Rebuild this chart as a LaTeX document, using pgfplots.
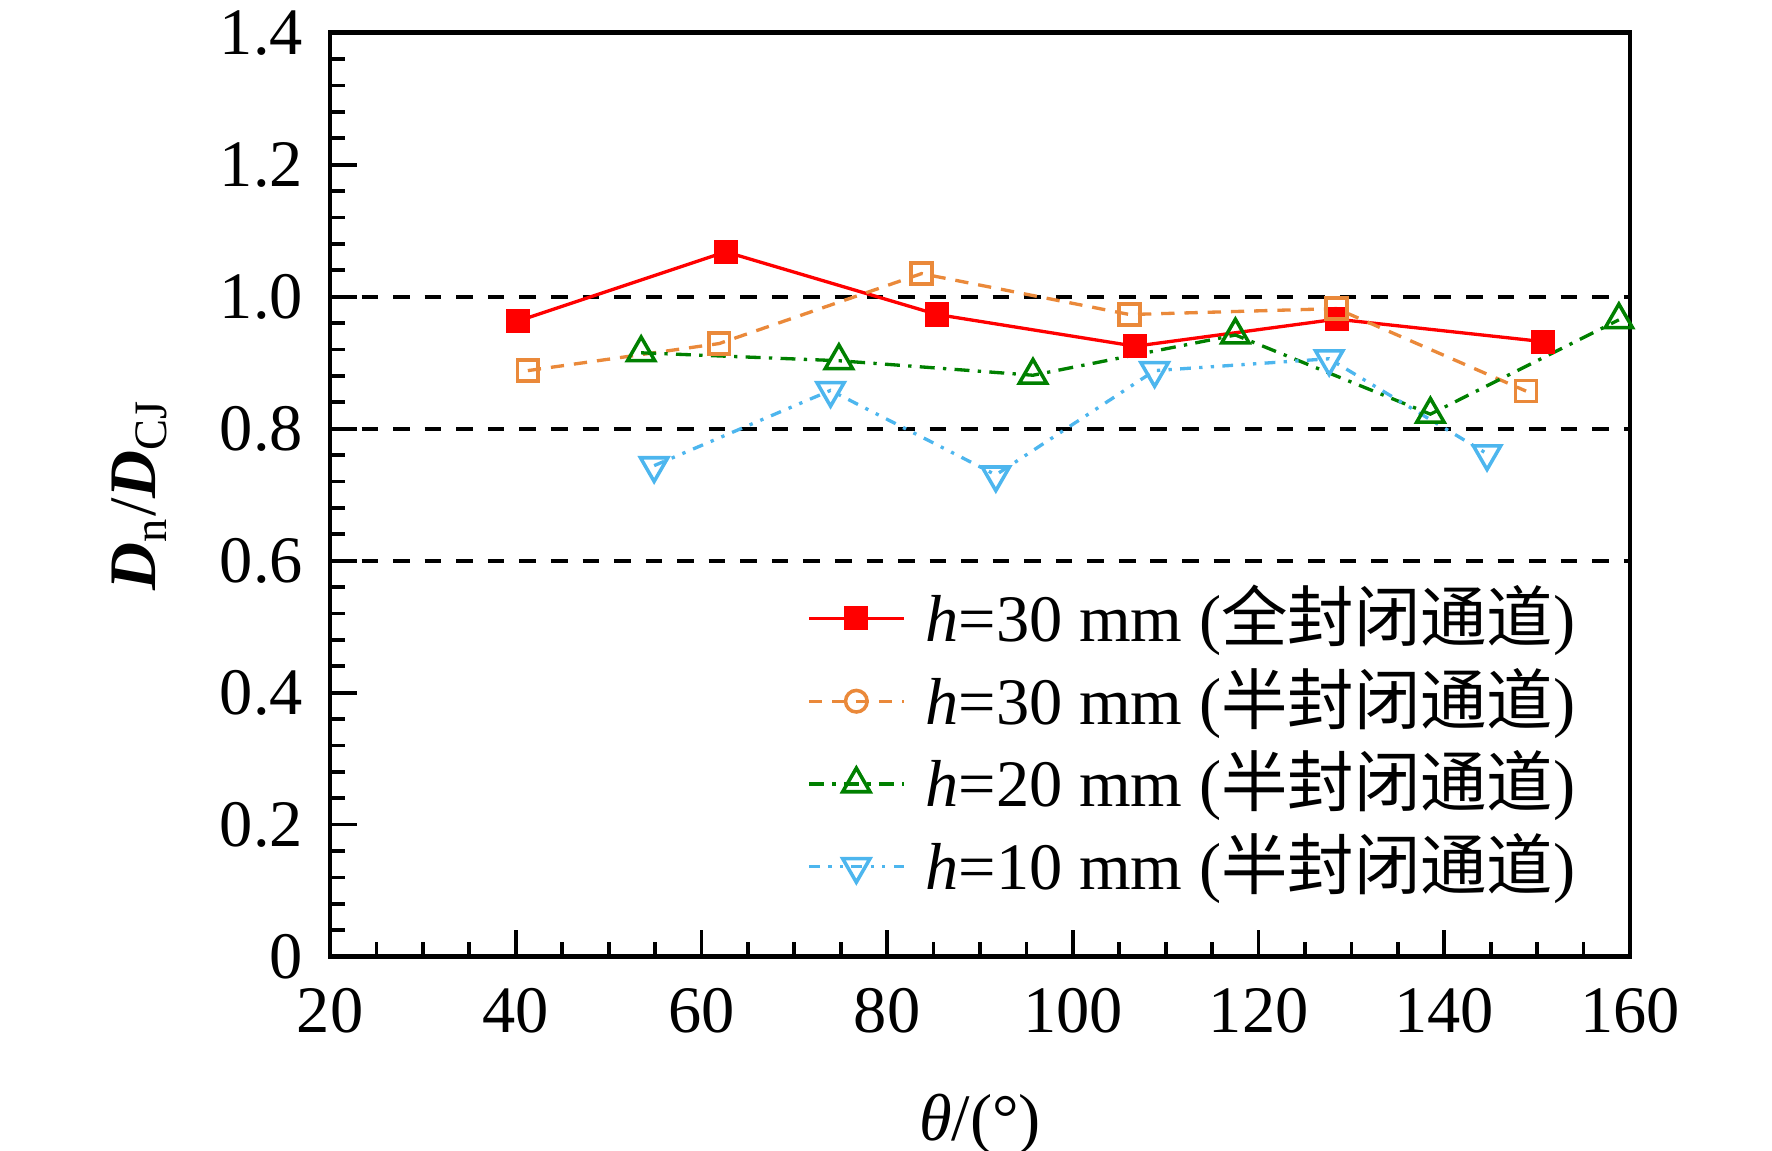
\documentclass[border=0pt]{standalone}
\usepackage{fontspec}
\setmainfont{Liberation Serif}
\newfontfamily\cjk{Noto Sans CJK SC}
\usepackage{pgfplots}
\pgfplotsset{compat=1.18}
\definecolor{cred}{RGB}{255,0,0}
\definecolor{corange}{RGB}{234,137,58}
\definecolor{cgreen}{RGB}{0,128,0}
\definecolor{cblue}{RGB}{77,182,238}
\begin{document}
\fontsize{16}{19}\selectfont
\begin{tikzpicture}
\begin{axis}[
  name=ax,
  scale only axis, width=313.1pt, height=222.5pt,
  xmin=20, xmax=160, ymin=0, ymax=1.4,
  xtick={20,40,...,160}, minor x tick num=3,
  ytick={0,0.2,0.4,0.6,0.8,1.0,1.2,1.4},
  yticklabels={0,0.2,0.4,0.6,0.8,1.0,1.2,1.4},
  minor y tick num=4,
  xtick pos=bottom, ytick pos=left,
  tick align=inside,
  major tick length=6.5pt, minor tick length=3.5pt,
  every tick/.style={line width=0.9pt, black},
  axis line style={line width=1.1pt},
  /pgf/number format/assume math mode=true,
  ticklabel style={font=\fontsize{16}{19}\selectfont},
  xticklabel style={yshift=-2pt},
  yticklabel style={xshift=-1pt},
  xlabel={\textit{θ}/(°)},
  ylabel={\textbf{\textit{D}}\textsubscript{n}/\textbf{\textit{D}}\textsubscript{CJ}},
  xlabel style={yshift=-4pt},
  ylabel style={yshift=2pt},
  legend style={draw=none, fill=none, at={(0.357,0.421)}, anchor=north west,
    font=\fontsize{16}{19}\selectfont, row sep=0pt,
    /tikz/every even column/.append style={column sep=2pt}},
  legend cell align=left,
  legend image code/.code={\draw[mark repeat=2,mark phase=2] plot coordinates {(0cm,0cm) (0.4cm,0cm) (0.8cm,0cm)};\path (0.9cm,0cm);},
]
\addplot[black, line width=1pt, dash pattern=on 4pt off 3.6pt, forget plot] coordinates {(20,1.0) (160,1.0)};
\addplot[black, line width=1pt, dash pattern=on 4pt off 3.6pt, forget plot] coordinates {(20,0.8) (160,0.8)};
\addplot[black, line width=1pt, dash pattern=on 4pt off 3.6pt, forget plot] coordinates {(20,0.6) (160,0.6)};

\addplot[cred, line width=0.8pt, mark=square*, mark size=2.5pt, mark options={solid, fill=cred}]
coordinates {(40.2,0.963) (62.6,1.068) (85.4,0.973) (106.7,0.925) (128.4,0.966) (150.6,0.932)};
\addlegendentry{\textit{h}=30 mm ({\cjk 全封闭通道})}

\addplot[corange, line width=0.8pt, dash pattern=on 3.2pt off 2.4pt, mark=square, mark size=2.5pt, mark options={solid, line width=0.85pt}, forget plot]
coordinates {(41.3,0.888) (61.9,0.929) (83.7,1.035) (106.1,0.973) (128.4,0.982) (148.8,0.857)};
\addlegendimage{corange, line width=0.8pt, dash pattern=on 3.2pt off 2.4pt, mark=o, mark size=2.6pt, mark options={solid, line width=0.85pt}}
\addlegendentry{\textit{h}=30 mm ({\cjk 半封闭通道})}

\addplot[cgreen, line width=0.8pt, dash pattern=on 3.6pt off 2pt on 0.8pt off 2pt, mark=triangle, mark size=3.8pt, mark options={solid, line width=0.85pt}]
coordinates {(53.5,0.915) (74.8,0.903) (95.7,0.881) (117.5,0.942) (138.5,0.822) (158.8,0.965)};
\addlegendentry{\textit{h}=20 mm ({\cjk 半封闭通道})}

\addplot[cblue, line width=0.8pt, dash pattern=on 2.6pt off 2pt on 0.8pt off 2pt on 0.8pt off 2pt, mark=triangle, mark size=3.8pt, mark options={solid, line width=0.85pt, rotate=180}]
coordinates {(54.9,0.744) (73.9,0.858) (91.7,0.730) (108.8,0.888) (127.6,0.906) (144.6,0.762)};
\addlegendentry{\textit{h}=10 mm ({\cjk 半封闭通道})}
\end{axis}
\pgfresetboundingbox
\path[use as bounding box] ([xshift=-79.5pt,yshift=-46.7pt]ax.south west) rectangle ([xshift=34.2pt,yshift=7.9pt]ax.north east);
\end{tikzpicture}
\end{document}
